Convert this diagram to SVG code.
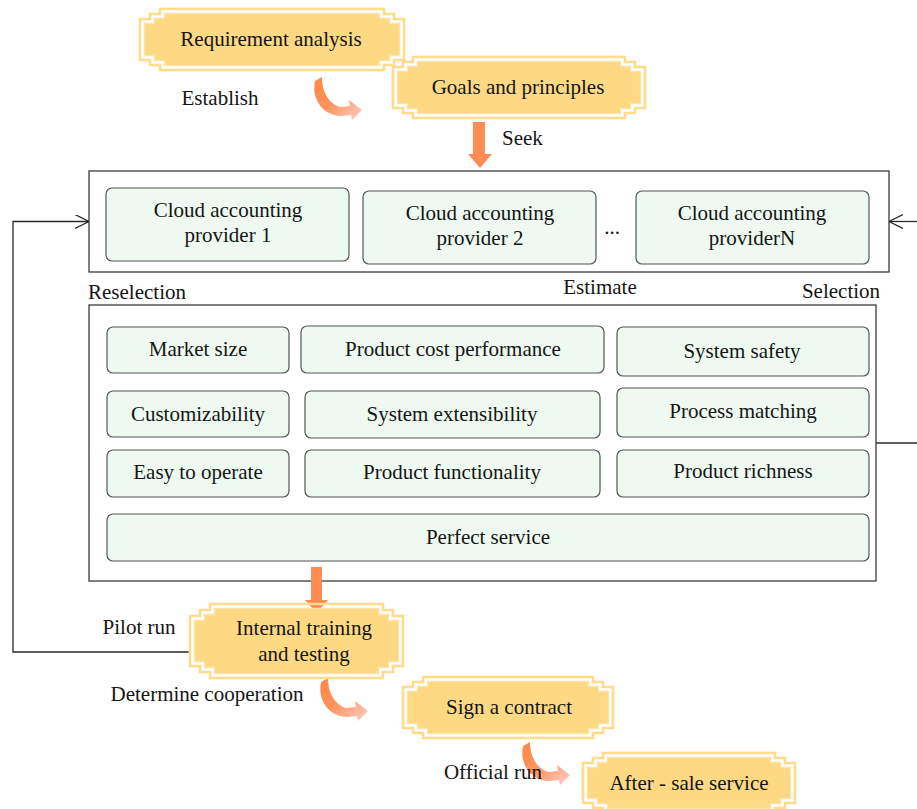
<svg xmlns="http://www.w3.org/2000/svg" width="917" height="809" viewBox="0 0 917 809">
  <style>
    text { font-family: "Liberation Serif", "Times New Roman", serif; font-size: 21px; fill: #151515; }
    .c { text-anchor: middle; }
    .frame { fill: #ffffff; stroke: #3a3a3a; stroke-width: 1.3; }
    .card { fill: #eef9f1; stroke: #555555; stroke-width: 1.2; }
    .out { fill: none; stroke: #fddc8c; stroke-width: 2.6; }
    .in { fill: #fdd983; stroke: #fce4a8; stroke-width: 1.4; }
    .link { fill: none; stroke: #2a2a2a; stroke-width: 1.3; }
    .down { fill: #ff8b55; }
    .bend { fill: url(#bendGrad); }
  </style>
  <defs>
    <marker id="open" markerUnits="userSpaceOnUse" markerWidth="16" markerHeight="16" refX="14" refY="7" orient="auto">
      <path d="M0,0 L14,7 L0,14" fill="none" stroke="#2a2a2a" stroke-width="1.3"/>
    </marker>
    <linearGradient id="bendGrad" x1="0.1" y1="0.2" x2="0.9" y2="0.9">
      <stop offset="0" stop-color="#ff8a4e"/>
      <stop offset="0.4" stop-color="#ff935c"/>
      <stop offset="1" stop-color="#ffc4b5"/>
    </linearGradient>
    <path id="bendArrow" d="M2,4 L9,0 C9,12 14,26 27,30 L37,29 L36,23 L49,33 L39,43 L38,38 L28,39 C12,39 -2,24 2,4 Z"/>
  </defs>

  <!-- connectors -->
  <g id="connectors">
    <path class="link" d="M190,652 H13 V221.5 H89" marker-end="url(#open)"/>
    <path class="link" d="M917,221.5 H889" marker-end="url(#open)"/>
    <path class="link" d="M876,443 H917"/>
  </g>

  <!-- provider container -->
  <g id="providers">
    <rect class="frame" x="89" y="171" width="800" height="101"/>
    <g id="provider1">
      <rect class="card" x="106" y="188" width="243" height="73" rx="6"/>
      <text class="c" x="228" y="217">Cloud accounting</text>
      <text class="c" x="228" y="242">provider 1</text>
    </g>
    <g id="provider2">
      <rect class="card" x="363" y="191" width="233" height="73" rx="6"/>
      <text class="c" x="480" y="220">Cloud accounting</text>
      <text class="c" x="480" y="245">provider 2</text>
    </g>
    <text class="c" x="612" y="234">...</text>
    <g id="providerN">
      <rect class="card" x="636" y="191" width="233" height="73" rx="6"/>
      <text class="c" x="752" y="220">Cloud accounting</text>
      <text class="c" x="752" y="245">providerN</text>
    </g>
  </g>

  <text x="88" y="299">Reselection</text>
  <text class="c" x="600" y="294">Estimate</text>
  <text class="c" x="841" y="298">Selection</text>

  <!-- evaluation criteria -->
  <g id="criteria">
    <rect class="frame" x="89" y="305" width="787" height="276"/>
    <g id="market-size"><rect class="card" x="107" y="327" width="182" height="46" rx="6"/><text class="c" x="198" y="356">Market size</text></g>
    <g id="cost-performance"><rect class="card" x="301" y="326" width="303" height="47" rx="6"/><text class="c" x="453" y="356">Product cost performance</text></g>
    <g id="system-safety"><rect class="card" x="617" y="327" width="252" height="49" rx="6"/><text class="c" x="742" y="358">System safety</text></g>
    <g id="customizability"><rect class="card" x="107" y="391" width="182" height="46" rx="6"/><text class="c" x="198" y="421">Customizability</text></g>
    <g id="extensibility"><rect class="card" x="305" y="391" width="295" height="47" rx="6"/><text class="c" x="452" y="421">System extensibility</text></g>
    <g id="process-matching"><rect class="card" x="617" y="388" width="252" height="49" rx="6"/><text class="c" x="743" y="418">Process matching</text></g>
    <g id="easy-operate"><rect class="card" x="107" y="450" width="182" height="47" rx="6"/><text class="c" x="198" y="479">Easy to operate</text></g>
    <g id="functionality"><rect class="card" x="305" y="450" width="295" height="47" rx="6"/><text class="c" x="452" y="479">Product functionality</text></g>
    <g id="richness"><rect class="card" x="617" y="450" width="252" height="47" rx="6"/><text class="c" x="743" y="478">Product richness</text></g>
    <g id="perfect-service"><rect class="card" x="107" y="514" width="762" height="47" rx="6"/><text class="c" x="488" y="544">Perfect service</text></g>
  </g>

  <!-- vertical flow arrows -->
  <g id="flow-arrows">
    <path class="down" d="M473,122 H485 V154 H492 L480,168 L468,154 H473 Z"/>
    <path class="down" d="M311,567 H322 V600 H328 L316.5,613 L305,600 H311 Z"/>
    <use href="#bendArrow" class="bend" transform="translate(313,77)"/>
    <use href="#bendArrow" class="bend" transform="translate(319,678)"/>
    <use href="#bendArrow" class="bend" transform="translate(521,742)"/>
  </g>

  <!-- stage boxes -->
  <g id="requirement-analysis">
    <path class="out" d="M160,9 H384 V14 H394 V19 H404 V60 H394 V65 H384 V70 H160 V65 H150 V60 H140 V19 H150 V14 H160 Z"/>
    <path class="in" d="M164.5,13.5 H379.5 V18.5 H389.5 V23.5 H399.5 V55.5 H389.5 V60.5 H379.5 V65.5 H164.5 V60.5 H154.5 V55.5 H144.5 V23.5 H154.5 V18.5 H164.5 Z"/>
    <text class="c" x="271" y="46">Requirement analysis</text>
  </g>
  <text class="c" x="220" y="105">Establish</text>

  <g id="goals-principles">
    <path class="out" d="M413,57 H625 V62 H635 V67 H645 V108 H635 V113 H625 V118 H413 V113 H403 V108 H393 V67 H403 V62 H413 Z"/>
    <path class="in" d="M417.5,61.5 H620.5 V66.5 H630.5 V71.5 H640.5 V103.5 H630.5 V108.5 H620.5 V113.5 H417.5 V108.5 H407.5 V103.5 H397.5 V71.5 H407.5 V66.5 H417.5 Z"/>
    <text class="c" x="518" y="94">Goals and principles</text>
  </g>
  <text x="502" y="145">Seek</text>

  <text class="c" x="139" y="634">Pilot run</text>
  <g id="internal-training">
    <path class="out" d="M210,604 H383 V610 H393 V616 H403 V666 H393 V672 H383 V678 H210 V672 H200 V666 H190 V616 H200 V610 H210 Z"/>
    <path class="in" d="M214.5,608.5 H378.5 V614.5 H388.5 V620.5 H398.5 V661.5 H388.5 V667.5 H378.5 V673.5 H214.5 V667.5 H204.5 V661.5 H194.5 V620.5 H204.5 V614.5 H214.5 Z"/>
    <text class="c" x="304" y="635">Internal training</text>
    <text class="c" x="304" y="661">and testing</text>
  </g>
  <text class="c" x="207" y="701">Determine cooperation</text>

  <g id="sign-contract">
    <path class="out" d="M423,677 H593 V682 H603 V687 H613 V728 H603 V733 H593 V738 H423 V733 H413 V728 H403 V687 H413 V682 H423 Z"/>
    <path class="in" d="M427.5,681.5 H588.5 V686.5 H598.5 V691.5 H608.5 V723.5 H598.5 V728.5 H588.5 V733.5 H427.5 V728.5 H417.5 V723.5 H407.5 V691.5 H417.5 V686.5 H427.5 Z"/>
    <text class="c" x="509" y="714">Sign a contract</text>
  </g>
  <text class="c" x="493" y="779">Official run</text>

  <g id="after-sale">
    <path class="out" d="M603,753 H775 V758 H785 V763 H795 V803 H785 V808 H775 V813 H603 V808 H593 V803 H583 V763 H593 V758 H603 Z"/>
    <path class="in" d="M607.5,757.5 H770.5 V762.5 H780.5 V767.5 H790.5 V798.5 H780.5 V803.5 H770.5 V808.5 H607.5 V803.5 H597.5 V798.5 H587.5 V767.5 H597.5 V762.5 H607.5 Z"/>
    <text class="c" x="689" y="790">After - sale service</text>
  </g>
</svg>
